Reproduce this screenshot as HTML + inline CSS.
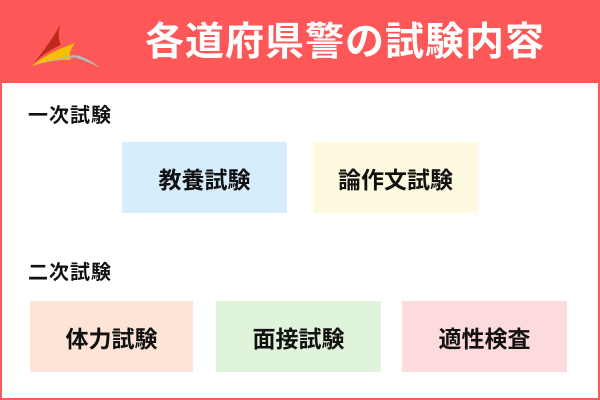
<!DOCTYPE html>
<html><head><meta charset="utf-8"><style>
body{margin:0}
#c{position:relative;width:600px;height:400px;background:#fff;overflow:hidden;font-family:"Liberation Sans","Noto Sans CJK JP",sans-serif}
.fr{position:absolute;left:0;top:0;width:596px;height:396px;border:2px solid #fd5b5b}
.hd{position:absolute;left:0;top:0;width:600px;height:83px;background:#fd5757}
.tt{position:absolute;left:145px;top:18px;color:#fff;font-size:39px;font-weight:bold;letter-spacing:1px;line-height:50px;white-space:nowrap}
.lb{position:absolute;left:28px;font-size:20px;font-weight:bold;color:#111;line-height:24px;letter-spacing:1px}
.b{position:absolute;width:165px;height:71px;display:flex;align-items:center;justify-content:center;font-size:23px;font-weight:bold;color:#111}
</style></head><body><div id="c">
<div class="fr"></div>
<div class="hd"></div>
<svg style="position:absolute;left:28px;top:22px" width="76" height="48" viewBox="0 0 70 46">
<path d="M30 2 Q20 20 2 42 Q12 30 30 22 Q26 12 30 2Z" fill="#c0281a"/>
<path d="M2 42 Q20 28 44 20 Q36 30 40 36 Q20 36 2 42Z" fill="#f5c000"/>
<path d="M2 42 Q30 34 44 34 Q56 38 68 44 Q50 30 40 32 Q20 36 2 42Z" fill="#b8b8b8"/>
</svg>
<div class="tt">各道府県警の試験内容</div>
<div class="lb" style="top:104px">一次試験</div>
<div class="lb" style="top:261px">二次試験</div>
<div class="b" style="left:122px;top:142px;background:#d5edfd">教養試験</div>
<div class="b" style="left:313px;top:142px;background:#fefae0">論作文試験</div>
<div class="b" style="left:30px;top:301px;width:163px;background:#fde4d6">体力試験</div>
<div class="b" style="left:216px;top:301px;background:#e0f3db">面接試験</div>
<div class="b" style="left:402px;top:301px;background:#fddbdd">適性検査</div>
</div></body></html>
